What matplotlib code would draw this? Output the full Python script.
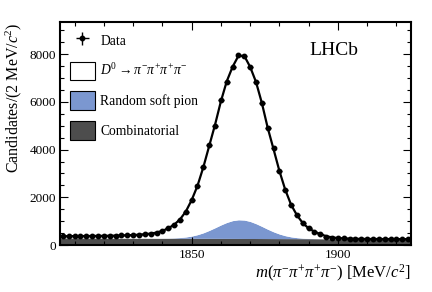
import matplotlib
matplotlib.use("Agg")
import matplotlib.pyplot as plt
import numpy as np

plt.rcParams['font.family'] = ['Liberation Serif', 'DejaVu Serif']
plt.rcParams['mathtext.fontset'] = 'custom'
plt.rcParams['mathtext.rm'] = 'Liberation Serif'
plt.rcParams['mathtext.it'] = 'Liberation Serif:italic'
plt.rcParams['mathtext.bf'] = 'Liberation Serif:bold'

# mass window, 2 MeV bins
m_lo, m_hi = 1805, 1925
bin_centers = np.arange(1806, 1925, 2)

# data points (candidates per bin)
data = [370, 365, 375, 370, 380, 375, 385, 380, 390, 395,
        400, 410, 420, 440, 455, 480, 515, 600, 700, 838,
        1048, 1395, 1886, 2472, 3281, 4180, 4986, 6076, 6842, 7446,
        7960, 7920, 7446, 6842, 5962, 4890, 4052, 3113, 2305, 1676,
        1257, 909, 700, 557, 461, 348, 310, 290, 275, 265,
        260, 255, 255, 250, 255, 250, 250, 245, 250, 245]

# total fit curve
fit = [368, 370, 372, 374, 376, 378, 381, 384, 388, 393,
       400, 408, 418, 432, 452, 480, 520, 590, 700, 850,
       1070, 1400, 1880, 2480, 3260, 4150, 5040, 6020, 6860, 7470,
       7930, 7930, 7470, 6840, 5960, 4920, 4020, 3110, 2320, 1690,
       1250, 920, 700, 560, 455, 370, 320, 292, 276, 266,
       260, 256, 254, 252, 251, 250, 249, 248, 247, 246]

# random soft pion component (on top of combinatorial)
rand_pion = [0, 0, 0, 0, 0, 0, 0, 0, 0, 0,
             0, 0, 0, 0, 0, 0, 1, 3, 7, 15,
             30, 55, 94, 153, 232, 333, 446, 564, 669, 747,
             783, 772, 716, 623, 511, 392, 284, 193, 123, 74,
             42, 22, 11, 5, 2, 0, 0, 0, 0, 0,
             0, 0, 0, 0, 0, 0, 0, 0, 0, 0]

# combinatorial level at the two ends of the window
comb_ends = [300, 250]

data = np.array(data, dtype=float)
fit = np.array(fit, dtype=float)
rand_pion = np.array(rand_pion, dtype=float)

fig = plt.figure(figsize=(4.32, 2.92), dpi=100)
ax = fig.add_axes([60/432, 1 - 245/292, 351/432, 223/292])

x_full = np.concatenate([[m_lo], bin_centers, [m_hi]])
comb_full = np.interp(x_full, [m_lo, m_hi], comb_ends)
rand_full = np.concatenate([[0], rand_pion, [0]])
fit_full = np.concatenate([[fit[0]], fit, [fit[-1]]])

ax.fill_between(x_full, 0, comb_full, color='#4d4d4d', lw=0, label='Combinatorial')
ax.fill_between(x_full, comb_full, comb_full + rand_full, color='#7b97d0', lw=0,
                label='Random soft pion')
ax.fill_between(x_full, comb_full + rand_full, fit_full, color='white', lw=0,
                label=r'$D^0 \rightarrow \pi^{-}\pi^{+}\pi^{+}\pi^{-}$')
ax.plot(bin_centers, fit, color='black', lw=1.6, zorder=3)
ax.errorbar(bin_centers, data, yerr=np.sqrt(data), xerr=1, fmt='o', color='black',
            ms=3.2, lw=1, capsize=0, zorder=4, label='Data')

ax.set_xlim(m_lo, m_hi)
ax.set_ylim(0, 9350)
ax.set_xticks([1850, 1900])
ax.set_xticks(np.arange(1810, 1925, 10), minor=True)
ax.set_yticks([0, 2000, 4000, 6000, 8000])
ax.set_yticks(np.arange(0, 9350, 500), minor=True)
ax.tick_params(which='both', direction='in', top=True, right=True, labelsize=9.5)
ax.tick_params(which='major', length=6, width=0.8, pad=3)
ax.tick_params(which='minor', length=3, width=0.8)
for s in ax.spines.values():
    s.set_linewidth(1.5)

ax.set_ylabel('Candidates/(2 MeV/$c^2$)', fontsize=11.5, ha='right', y=1.0)
ax.set_xlabel(r'$m(\pi^{-}\pi^{+}\pi^{+}\pi^{-})$ [MeV/$c^2$]', fontsize=12,
              ha='right', x=1.0, labelpad=1)

ax.text(0.78, 0.87, 'LHCb', transform=ax.transAxes, fontsize=14, ha='center', va='center')

h, l = ax.get_legend_handles_labels()
order = [l.index('Data'), 2, 1, 0]
leg = ax.legend([h[i] for i in order], [l[i] for i in order], loc='upper left',
                fontsize=9.8, frameon=False, handlelength=1.9, handleheight=1.75,
                labelspacing=0.82, handletextpad=0.35, borderaxespad=0.3)
for p in leg.get_patches():
    p.set_edgecolor('black')
    p.set_linewidth(0.8)

fig.savefig('out.png', dpi=100)
